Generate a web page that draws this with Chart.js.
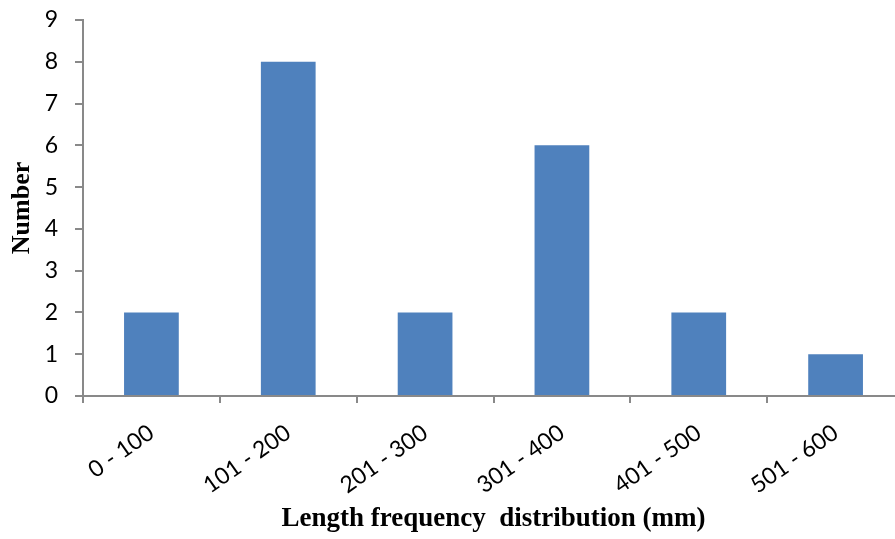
<!DOCTYPE html>
<html><head><meta charset="utf-8">
<script src="https://cdn.jsdelivr.net/npm/chart.js@4"></script>
<style>html,body{margin:0;padding:0;overflow:hidden;background:#fff}</style>
</head><body>
<canvas id="c" width="905" height="539"></canvas>
<script>
const categories = ["0 - 100","101 - 200","201 - 300","301 - 400","401 - 500","501 - 600"];
const counts = [2, 8, 2, 6, 2, 1];
const yTicks = [0,1,2,3,4,5,6,7,8,9];

new Chart(document.getElementById('c'), {
  type: 'bar',
  data: { labels: categories, datasets: [{ data: counts, backgroundColor: '#4F81BD', borderColor: '#4F81BD', borderWidth: 0, barPercentage: 0.4, categoryPercentage: 1 }] },
  options: {
    responsive: false, animation: false,
    layout: { padding: { top: 20, left: 0, right: 1, bottom: 0 } },
    plugins: { legend: { display: false }, tooltip: { enabled: false } },
    scales: {
      x: {
        grid: { display: true, drawOnChartArea: false, drawTicks: true, tickLength: 7, color: '#898989', lineWidth: 2, offset: true },
        border: { color: '#898989', width: 2 },
        ticks: { font: { family: 'Lato', size: 23 }, color: '#000', minRotation: 35, maxRotation: 35, padding: 16, autoSkip: false },
        title: { display: true, text: 'Length frequency  distribution (mm)', font: { family: 'Liberation Serif', size: 27, weight: 'bold' }, color: '#000', padding: { top: 0, bottom: 4 } },
        afterFit: s => { s.height = 143; s.paddingLeft = 0; s.paddingRight = 0; }
      },
      y: {
        min: 0, max: 9,
        afterBuildTicks: s => { s.ticks = yTicks.map(v => ({ value: v })); },
        grid: { display: true, drawOnChartArea: false, drawTicks: true, tickLength: 8, color: '#898989', lineWidth: 2 },
        border: { color: '#898989', width: 2 },
        ticks: { font: { family: 'Lato', size: 23 }, color: '#000', padding: 17 },
        title: { display: true, text: 'Number', font: { family: 'Liberation Serif', size: 26, weight: 'bold' }, color: '#000', padding: { top: 7, bottom: 0 } },
        afterFit: s => { s.width = 83; s.paddingTop = 0; s.paddingBottom = 0; }
      }
    }
  }
});
</script>
</body></html>
